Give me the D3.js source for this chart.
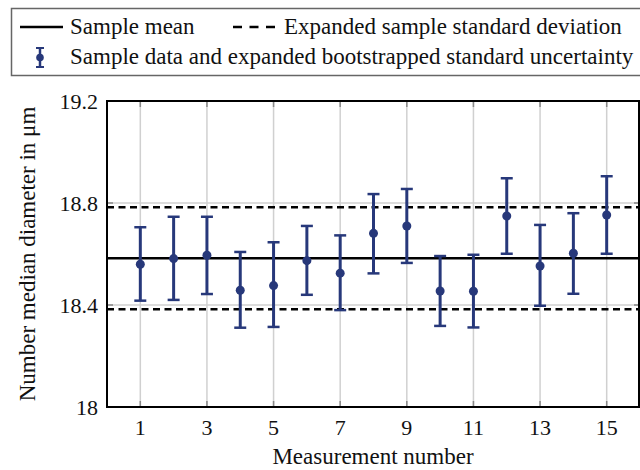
<!DOCTYPE html>
<html>
<head>
<meta charset="utf-8">
<script src="https://cdn.jsdelivr.net/npm/d3@7"></script>
<style>
  body { margin: 0; background: #fff; }
  text { font-family: "Liberation Serif", "DejaVu Serif", serif; fill: #111; }
</style>
</head>
<body>
<div id="chart-area"></div>
<script>
var measurement = [1, 2, 3, 4, 5, 6, 7, 8, 9, 10, 11, 12, 13, 14, 15];
var diameter = [18.560, 18.582, 18.595, 18.458, 18.476, 18.574, 18.525, 18.681, 18.710, 18.455, 18.454, 18.749, 18.553, 18.603, 18.753];
var upper = [18.705, 18.746, 18.746, 18.608, 18.646, 18.710, 18.673, 18.835, 18.855, 18.592, 18.597, 18.897, 18.714, 18.760, 18.905];
var lower = [18.417, 18.420, 18.443, 18.311, 18.314, 18.440, 18.380, 18.524, 18.565, 18.318, 18.312, 18.601, 18.397, 18.444, 18.601];
var sampleMean = 18.583;
var sdBand = [18.383, 18.783];
var xTicks = [1, 3, 5, 7, 9, 11, 13, 15];
var yTicks = [18, 18.4, 18.8, 19.2];

var navy = "#27387a";
var serif = "'Liberation Serif', 'DejaVu Serif', serif";

var svg = d3.select("#chart-area").append("svg")
    .attr("width", 640)
    .attr("height", 470)
    .attr("font-family", serif);

var x = d3.scaleLinear().domain([0, 16]).range([107, 640]);
var y = d3.scaleLinear().domain([18, 19.2]).range([407, 101]);

// grid
svg.selectAll(".vgrid").data(xTicks).enter().append("line")
    .attr("x1", function(d){ return x(d); })
    .attr("x2", function(d){ return x(d); })
    .attr("y1", y(19.2)).attr("y2", y(18))
    .attr("stroke", "#d0d0d0").attr("stroke-width", 1.5);

svg.selectAll(".hgrid").data(yTicks.slice(1, 3)).enter().append("line")
    .attr("x1", x(0)).attr("x2", x(16))
    .attr("y1", function(d){ return y(d); })
    .attr("y2", function(d){ return y(d); })
    .attr("stroke", "#d0d0d0").attr("stroke-width", 1.5);

// inner tick marks
xTicks.forEach(function(d){
    svg.append("line").attr("x1", x(d)).attr("x2", x(d))
        .attr("y1", y(18)).attr("y2", y(18) - 6)
        .attr("stroke", "#888").attr("stroke-width", 1.5);
    svg.append("line").attr("x1", x(d)).attr("x2", x(d))
        .attr("y1", y(19.2)).attr("y2", y(19.2) + 6)
        .attr("stroke", "#888").attr("stroke-width", 1.5);
});
yTicks.forEach(function(d){
    svg.append("line").attr("x1", x(0)).attr("x2", x(0) + 6)
        .attr("y1", y(d)).attr("y2", y(d))
        .attr("stroke", "#888").attr("stroke-width", 1.5);
    svg.append("line").attr("x1", x(16) - 6).attr("x2", x(16))
        .attr("y1", y(d)).attr("y2", y(d))
        .attr("stroke", "#888").attr("stroke-width", 1.5);
});

// mean and dashed band
svg.append("line")
    .attr("x1", x(0)).attr("x2", x(16))
    .attr("y1", y(sampleMean)).attr("y2", y(sampleMean))
    .attr("stroke", "#000").attr("stroke-width", 2.5);

svg.selectAll(".sd").data(sdBand).enter().append("line")
    .attr("x1", x(0)).attr("x2", x(16))
    .attr("y1", function(d){ return y(d); })
    .attr("y2", function(d){ return y(d); })
    .attr("stroke", "#000").attr("stroke-width", 2.5)
    .attr("stroke-dasharray", "7,4.5");

// error bars
var pts = measurement.map(function(m, i){
    return { m: m, v: diameter[i], hi: upper[i], lo: lower[i] };
});

var bars = svg.selectAll(".bar").data(pts).enter().append("g");
bars.append("line")
    .attr("x1", function(d){ return x(d.m); })
    .attr("x2", function(d){ return x(d.m); })
    .attr("y1", function(d){ return y(d.hi); })
    .attr("y2", function(d){ return y(d.lo); })
    .attr("stroke", navy).attr("stroke-width", 3);
bars.append("line")
    .attr("x1", function(d){ return x(d.m) - 6; })
    .attr("x2", function(d){ return x(d.m) + 6; })
    .attr("y1", function(d){ return y(d.hi); })
    .attr("y2", function(d){ return y(d.hi); })
    .attr("stroke", navy).attr("stroke-width", 2.5);
bars.append("line")
    .attr("x1", function(d){ return x(d.m) - 6; })
    .attr("x2", function(d){ return x(d.m) + 6; })
    .attr("y1", function(d){ return y(d.lo); })
    .attr("y2", function(d){ return y(d.lo); })
    .attr("stroke", navy).attr("stroke-width", 2.5);
bars.append("circle")
    .attr("cx", function(d){ return x(d.m); })
    .attr("cy", function(d){ return y(d.v); })
    .attr("r", 4.5)
    .attr("fill", navy);

// frame
svg.append("rect")
    .attr("x", x(0)).attr("y", y(19.2))
    .attr("width", x(16) - x(0) - 1).attr("height", y(18) - y(19.2))
    .attr("fill", "none").attr("stroke", "#000").attr("stroke-width", 2);

// tick labels
svg.selectAll(".xt").data(xTicks).enter().append("text")
    .attr("x", function(d){ return x(d); })
    .attr("y", 435)
    .attr("text-anchor", "middle")
    .attr("font-size", 22)
    .text(function(d){ return d; });

svg.selectAll(".yt").data(yTicks).enter().append("text")
    .attr("x", 98)
    .attr("y", function(d){ return y(d) + 7.5; })
    .attr("text-anchor", "end")
    .attr("font-size", 22)
    .text(function(d){ return d; });

// axis titles
svg.append("text")
    .attr("x", 373).attr("y", 464)
    .attr("text-anchor", "middle")
    .attr("font-size", 23)
    .text("Measurement number");

svg.append("text")
    .attr("transform", "translate(35," + ((y(18) + y(19.2)) / 2) + ") rotate(-90)")
    .attr("text-anchor", "middle")
    .attr("font-size", 23)
    .text("Number median diameter in μm");

// legend
svg.append("rect")
    .attr("x", 11.5).attr("y", 8.5)
    .attr("width", 640).attr("height", 67)
    .attr("fill", "#fff").attr("stroke", "#666").attr("stroke-width", 1.5);

svg.append("line")
    .attr("x1", 20).attr("x2", 63).attr("y1", 27).attr("y2", 27)
    .attr("stroke", "#000").attr("stroke-width", 2.5);
svg.append("text").attr("x", 70).attr("y", 34)
    .attr("font-size", 23).text("Sample mean");

svg.append("line")
    .attr("x1", 233).attr("x2", 275).attr("y1", 27).attr("y2", 27)
    .attr("stroke", "#000").attr("stroke-width", 2.5)
    .attr("stroke-dasharray", "9,7.5");
svg.append("text").attr("x", 284).attr("y", 34)
    .attr("font-size", 23).text("Expanded sample standard deviation");

var lg = svg.append("g");
lg.append("line").attr("x1", 40).attr("x2", 40).attr("y1", 48).attr("y2", 67)
    .attr("stroke", navy).attr("stroke-width", 2.5);
lg.append("line").attr("x1", 36).attr("x2", 44).attr("y1", 48).attr("y2", 48)
    .attr("stroke", navy).attr("stroke-width", 2);
lg.append("line").attr("x1", 36).attr("x2", 44).attr("y1", 67).attr("y2", 67)
    .attr("stroke", navy).attr("stroke-width", 2);
lg.append("circle").attr("cx", 40).attr("cy", 57.5).attr("r", 3.8).attr("fill", navy);
svg.append("text").attr("x", 70).attr("y", 64)
    .attr("font-size", 23).text("Sample data and expanded bootstrapped standard uncertainty");
</script>
</body>
</html>
